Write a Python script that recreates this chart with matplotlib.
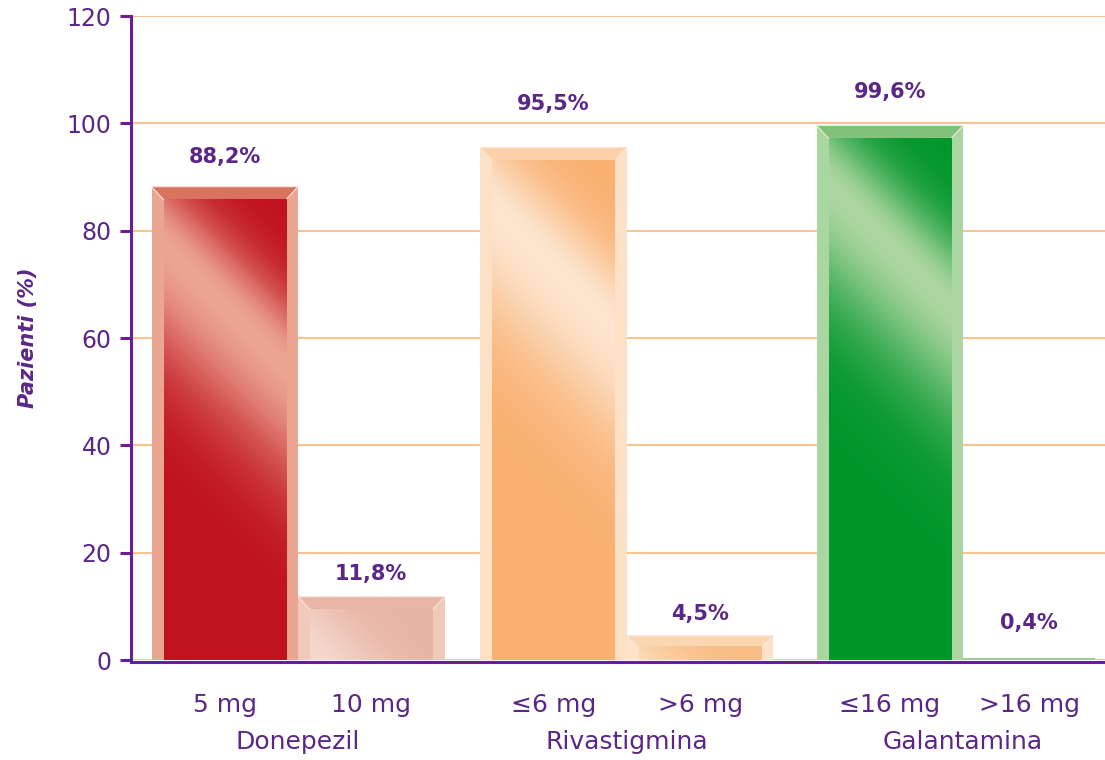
import numpy as np
import matplotlib.pyplot as plt
from matplotlib.patches import Rectangle, Polygon
from matplotlib.colors import to_rgb

# data
groups = ["Donepezil", "Rivastigmina", "Galantamina"]
doses = ["5 mg", "10 mg", "≤6 mg", ">6 mg", "≤16 mg", ">16 mg"]
values = [88.2, 11.8, 95.5, 4.5, 99.6, 0.4]
value_labels = ["88,2%", "11,8%", "95,5%", "4,5%", "99,6%", "0,4%"]
yticks = [0, 20, 40, 60, 80, 100, 120]

# layout / style
group_centers = [1.14, 3.385, 5.68]
bar_widths = [1, 1, 1, 1, 1, 0.9]
label_offsets = [21, 16, 31, 16, 24, 25]   # points above bar top
# (border, bevel, dark, light)
bar_styles = [
    ("#eba593", "#d9735f", "#c0121f", "#eca593"),
    ("#f1c9ba", "#e9b6a5", "#e7b3a3", "#f5d8ce"),
    ("#fde1c6", "#fbd2ab", "#f9b071", "#fde5cf"),
    ("#fde3ca", "#fbd6b2", "#f9bd85", "#fde2c8"),
    ("#aad7a1", "#80c27a", "#00962a", "#acd6a0"),
    ("#9ccd94", "#9ccd94", "#9ccd94", "#9ccd94"),
]
purple = "#5a2788"
spine_col = "#6a1e96"
grid_col = "#f9c48f"

W, H, DPI = 1105, 760, 100
fig = plt.figure(figsize=(W / DPI, H / DPI), dpi=DPI)
ax_l, ax_b = 131 / W, 1 - 660 / H
ax_w, ax_h = 1 - ax_l, (660 - 16) / H
ax = fig.add_axes([ax_l, ax_b, ax_w, ax_h])
xmax = 974 / 146.5
ax.set_xlim(0, xmax)
ax.set_ylim(0, 120)

pxx = ax_w * W / xmax   # pixels per x unit
pxy = ax_h * H / 120    # pixels per y unit

xs = []
for gc in group_centers:
    xs.append(gc - 0.5)
    xs.append(gc + 0.5)
xs[5] = group_centers[2] + bar_widths[5] / 2


def shade(dark, light, wpx, hpx):
    yy, xx = np.mgrid[0:hpx, 0:wpx]
    s = yy - 1.0 * xx - 45
    sig = np.where(s < 0, 70.0, 115.0)
    l = np.exp(-(s / sig) ** 2)
    d = np.array(to_rgb(dark))
    li = np.array(to_rgb(light))
    return d + (li - d) * l[..., None]


bw_px, bt_px = 12, 13
for x, w, v, (border, bevel, dark, light) in zip(xs, bar_widths, values, bar_styles):
    x0, x1 = x - w / 2, x + w / 2
    ax.add_patch(Rectangle((x0, 0), w, v, facecolor=border, edgecolor="none", zorder=2))
    hpx = v * pxy
    bw = bw_px / pxx
    bt = bt_px / pxy
    if hpx > 6:
        btv = min(bt, v * 0.45)
        ax.add_patch(Polygon([(x0, v), (x1, v), (x1 - bw, v - btv), (x0 + bw, v - btv)],
                             closed=True, facecolor=bevel, edgecolor="#fbe3d8",
                             linewidth=0.8, zorder=3))
        ih = v - btv
        img = shade(dark, light, int((w - 2 * bw) * pxx), max(int(ih * pxy), 2))
        ax.imshow(img, extent=[x0 + bw, x1 - bw, 0, ih], origin="upper",
                  aspect="auto", interpolation="bilinear", zorder=3)

for x, v, lab, off in zip(xs, values, value_labels, label_offsets):
    ax.annotate(lab, (x, v), xytext=(0, off), textcoords="offset points",
                ha="center", va="center", fontsize=15, fontweight="bold",
                color=purple, zorder=5)

ax.set_xlim(0, xmax)
ax.set_ylim(0, 120)

ax.set_yticks(yticks)
ax.tick_params(axis="y", direction="out", length=8, width=2.2, color=spine_col,
               labelsize=17, labelcolor=purple, pad=6)
ax.set_xticks(xs)
ax.set_xticklabels(doses)
ax.tick_params(axis="x", length=0, labelsize=18, labelcolor=purple, pad=22)

for gc, g in zip(group_centers, groups):
    ax.text(gc, -0.127, g, transform=ax.get_xaxis_transform(), ha="center",
            va="center", fontsize=18, color=purple)

ax.set_ylabel("Pazienti (%)", fontsize=15, fontweight="bold", style="italic",
              color=purple)
ax.yaxis.set_label_coords(-0.095, 0.5)

ax.yaxis.grid(True, color=grid_col, linewidth=1.5)
ax.set_axisbelow(True)
for side in ("top", "right"):
    ax.spines[side].set_visible(False)
for side in ("left", "bottom"):
    ax.spines[side].set_color(spine_col)
    ax.spines[side].set_linewidth(2.2)
    ax.spines[side].set_zorder(6)
ax.spines["bottom"].set_position(("outward", 1.5))

fig.savefig("out.png", dpi=DPI, facecolor="white")
